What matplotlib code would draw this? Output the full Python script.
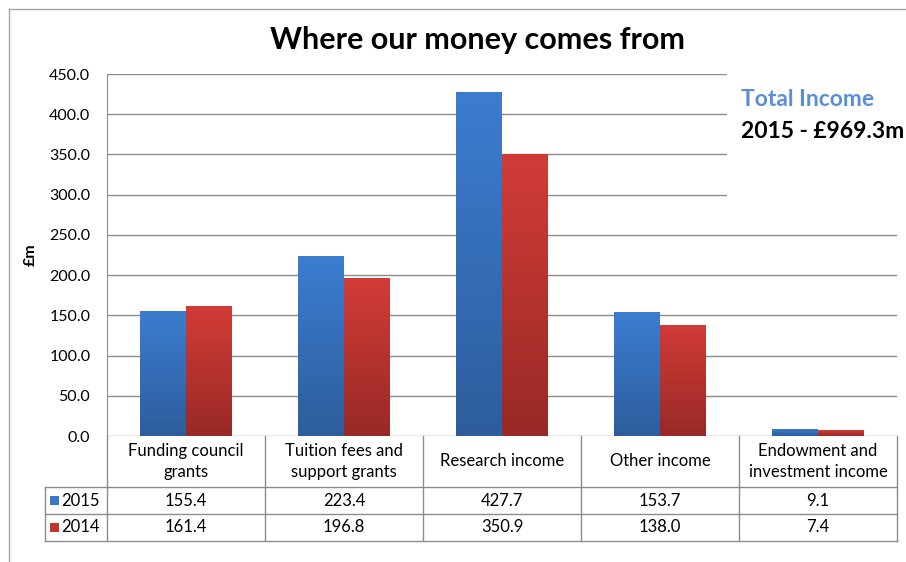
import numpy as np
import matplotlib
matplotlib.use("Agg")
import matplotlib.pyplot as plt
from matplotlib.colors import LinearSegmentedColormap
from matplotlib.patches import Rectangle
from matplotlib.lines import Line2D
import matplotlib.transforms as mtransforms

categories = ["Funding council\ngrants", "Tuition fees and\nsupport grants", "Research income",
              "Other income", "Endowment and\ninvestment income"]
years = ["2015", "2014"]
values_2015 = [155.4, 223.4, 427.7, 153.7, 9.1]
values_2014 = [161.4, 196.8, 350.9, 138.0, 7.4]
yticks = [0, 50, 100, 150, 200, 250, 300, 350, 400, 450]

plt.rcParams['font.family'] = ['Lato', 'DejaVu Sans']

W, H = 906, 562
fig = plt.figure(figsize=(W / 100, H / 100), dpi=100)
fig.patch.set_facecolor('white')

# main axes in pixel layout
L, R, T, B = 107, 897, 74, 436
ax = fig.add_axes([L / W, 1 - B / H, (R - L) / W, (B - T) / H])
ax.set_xlim(-0.5, 4.5)
ax.set_ylim(0, 450)
ax.set_yticks(yticks)
ax.set_yticklabels([f"{v:.1f}" for v in yticks], fontsize=11.5)
ax.tick_params(axis='y', length=0, pad=12)
ax.set_xticks([])
for s in ['top', 'right', 'bottom']:
    ax.spines[s].set_visible(False)
ax.spines['left'].set_color('#8c8c8c')
ax.set_axisbelow(True)
ax.yaxis.grid(True, color='#8c8c8c', linewidth=1.0)
ax.set_ylabel("£m", fontsize=11.5, fontweight='bold', labelpad=8)

# white box behind the total income annotation (covers upper gridlines)
ax.add_patch(Rectangle((0.785, 0.66), 0.3, 0.36, transform=ax.transAxes,
                       facecolor='white', edgecolor='none', zorder=1, clip_on=False))

x = np.arange(len(categories))
bw = 0.29
cmap_blue = LinearSegmentedColormap.from_list('b', ['#2d5d9c', '#3c7dd0'])
cmap_red = LinearSegmentedColormap.from_list('r', ['#982926', '#d23c37'])
grad = np.linspace(0, 1, 256).reshape(-1, 1)
for vals, off, cm in [(values_2015, -bw / 2, cmap_blue), (values_2014, bw / 2, cmap_red)]:
    bars = ax.bar(x + off, vals, width=bw, color='none', edgecolor='none', zorder=2)
    for p in bars:
        x0, y0 = p.get_x(), p.get_y()
        im = ax.imshow(grad, cmap=cm, origin='lower', aspect='auto',
                       extent=[x0, x0 + p.get_width(), y0, y0 + p.get_height()], zorder=2)
        im.set_clip_path(p)
ax.set_xlim(-0.5, 4.5)
ax.set_ylim(0, 450)

# data table below the axes (x in data coords, y in axes fraction)
ah = B - T
trans = mtransforms.blended_transform_factory(ax.transData, ax.transAxes)
def yf(px):
    return -(px - B) / ah
lc = '#8c8c8c'
xl = -0.5 - (L - 45) / ((R - L) / 5)
for ypx in [487, 514, 541]:
    ax.add_line(Line2D([xl, 4.5], [yf(ypx), yf(ypx)], transform=trans, color=lc, lw=1, clip_on=False))
for xb in np.arange(-0.5, 5.0, 1.0):
    ax.add_line(Line2D([xb, xb], [yf(436), yf(541)], transform=trans, color=lc, lw=1, clip_on=False))
ax.add_line(Line2D([xl, xl], [yf(487), yf(541)], transform=trans, color=lc, lw=1, clip_on=False))

for i, c in enumerate(categories):
    ax.text(i, yf(461.5), c, transform=trans, ha='center', va='center', fontsize=12,
            linespacing=1.35, clip_on=False)
    ax.text(i, yf(500.5), f"{values_2015[i]:.1f}", transform=trans, ha='center', va='center',
            fontsize=12, clip_on=False)
    ax.text(i, yf(527.5), f"{values_2014[i]:.1f}", transform=trans, ha='center', va='center',
            fontsize=12, clip_on=False)

# row labels with legend keys (pixel coords)
def fx(px):
    return px / W
def fy(px):
    return 1 - px / H
for yc, col, lab in [(500.5, '#3a78c9', years[0]), (527.5, '#c2342f', years[1])]:
    fig.patches.append(Rectangle((fx(50), fy(yc + 4.5)), 9 / W, 9 / H, transform=fig.transFigure,
                                 facecolor=col, edgecolor='none'))
    fig.text(fx(61), fy(yc), lab, ha='left', va='center', fontsize=12)

# title and annotation
fig.text(fx(478), fy(40), "Where our money comes from", ha='center', va='center',
         fontsize=22, fontweight='bold')
fig.text(fx(741), fy(100), "Total Income", ha='left', va='center', fontsize=16.5,
         fontweight='bold', color='#5a8fd8')
fig.text(fx(741), fy(131), "2015 - £969.3m", ha='left', va='center', fontsize=16.5,
         fontweight='bold', color='black')

# outer chart border
fig.add_artist(Line2D([fx(8.5), fx(8.5)], [fy(8.5), 0], transform=fig.transFigure, color='#a6a6a6', lw=1))
fig.add_artist(Line2D([fx(8.5), 1], [fy(8.5), fy(8.5)], transform=fig.transFigure, color='#a6a6a6', lw=1))

fig.savefig("out.png", dpi=100)
